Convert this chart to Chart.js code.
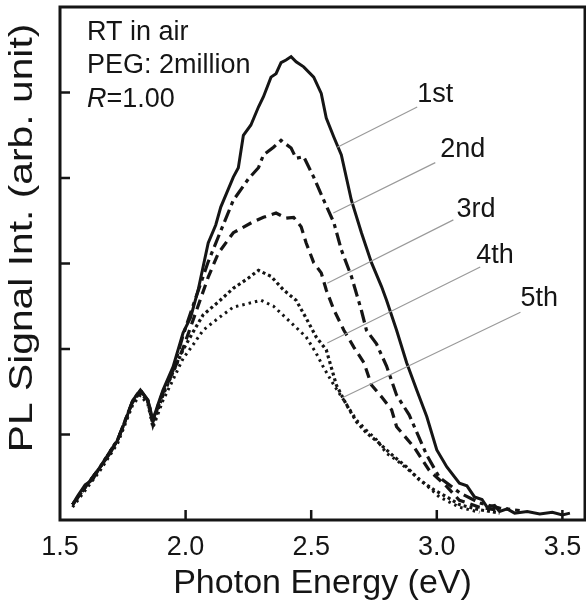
<!DOCTYPE html>
<html>
<head>
<meta charset="utf-8">
<script src="https://cdn.jsdelivr.net/npm/chart.js@4.4.1/dist/chart.umd.min.js"></script>
<style>
  body { margin: 0; background: #fff; }
  canvas { display: block; }
</style>
</head>
<body>
<canvas id="plChart" width="586" height="607"></canvas>
<script>
// values (photon energy in eV, PL intensity in arb. units)
const energy1st = [1.55, 1.57, 1.60, 1.63, 1.66, 1.70, 1.73, 1.76, 1.79, 1.82, 1.85, 1.87, 1.89, 1.91, 1.95, 1.99, 2.02, 2.05, 2.09, 2.12, 2.14, 2.19, 2.21, 2.23, 2.26, 2.29, 2.31, 2.34, 2.36, 2.38, 2.40, 2.42, 2.44, 2.47, 2.51, 2.54, 2.56, 2.59, 2.62, 2.66, 2.70, 2.74, 2.78, 2.80, 2.84, 2.88, 2.92, 2.96, 3.00, 3.04, 3.09, 3.12, 3.15, 3.18, 3.20, 3.23, 3.25, 3.28, 3.31, 3.36, 3.41, 3.46, 3.50, 3.53];
const signal1st = [0.18, 0.28, 0.41, 0.47, 0.62, 0.78, 0.94, 1.16, 1.40, 1.52, 1.40, 1.17, 1.35, 1.52, 1.79, 2.19, 2.37, 2.69, 3.24, 3.45, 3.66, 4.01, 4.12, 4.50, 4.62, 4.83, 4.95, 5.18, 5.22, 5.35, 5.38, 5.42, 5.36, 5.30, 5.18, 4.99, 4.70, 4.48, 4.27, 3.74, 3.36, 3.01, 2.73, 2.57, 2.22, 1.84, 1.52, 1.21, 0.82, 0.62, 0.43, 0.40, 0.27, 0.24, 0.15, 0.17, 0.10, 0.13, 0.08, 0.10, 0.07, 0.09, 0.06, 0.08];

const energy2nd = [1.55, 1.66, 1.73, 1.79, 1.82, 1.85, 1.87, 1.91, 1.95, 1.99, 2.03, 2.09, 2.13, 2.19, 2.25, 2.29, 2.31, 2.35, 2.38, 2.42, 2.44, 2.47, 2.51, 2.55, 2.59, 2.62, 2.66, 2.70, 2.72, 2.76, 2.80, 2.84, 2.89, 2.96, 3.01, 3.09, 3.17, 3.25, 3.33];
const signal2nd = [0.18, 0.62, 0.94, 1.40, 1.52, 1.40, 1.17, 1.50, 1.75, 2.16, 2.51, 3.02, 3.31, 3.74, 3.99, 4.12, 4.27, 4.36, 4.44, 4.35, 4.23, 4.25, 4.01, 3.74, 3.48, 3.16, 2.85, 2.45, 2.22, 2.06, 1.80, 1.46, 1.23, 0.76, 0.50, 0.32, 0.20, 0.14, 0.11];

const energy3rd = [1.55, 1.66, 1.73, 1.79, 1.82, 1.85, 1.87, 1.91, 1.95, 1.99, 2.03, 2.09, 2.13, 2.19, 2.27, 2.31, 2.36, 2.40, 2.43, 2.46, 2.48, 2.51, 2.54, 2.56, 2.59, 2.63, 2.67, 2.71, 2.74, 2.78, 2.82, 2.84, 2.91, 2.97, 3.04, 3.09, 3.17, 3.25];
const signal3rd = [0.18, 0.62, 0.94, 1.39, 1.51, 1.39, 1.15, 1.49, 1.73, 2.01, 2.34, 2.84, 3.12, 3.36, 3.49, 3.54, 3.59, 3.53, 3.54, 3.43, 3.24, 3.01, 2.89, 2.69, 2.46, 2.22, 2.02, 1.84, 1.58, 1.44, 1.29, 1.09, 0.85, 0.58, 0.39, 0.23, 0.15, 0.11];

const energy4th = [1.55, 1.66, 1.73, 1.79, 1.82, 1.85, 1.87, 1.91, 1.95, 1.99, 2.03, 2.07, 2.13, 2.19, 2.25, 2.29, 2.34, 2.39, 2.44, 2.48, 2.52, 2.56, 2.60, 2.64, 2.68, 2.72, 2.77, 2.83, 2.88, 2.93, 2.99, 3.04, 3.09, 3.17, 3.25];
const signal4th = [0.18, 0.62, 0.94, 1.38, 1.50, 1.38, 1.11, 1.46, 1.73, 1.99, 2.20, 2.40, 2.55, 2.71, 2.83, 2.92, 2.85, 2.69, 2.57, 2.36, 2.14, 1.99, 1.58, 1.35, 1.15, 1.02, 0.90, 0.74, 0.62, 0.47, 0.35, 0.27, 0.18, 0.12, 0.08];

const energy5th = [1.55, 1.66, 1.73, 1.79, 1.82, 1.85, 1.87, 1.91, 1.95, 1.99, 2.03, 2.07, 2.13, 2.19, 2.26, 2.30, 2.35, 2.39, 2.43, 2.48, 2.52, 2.55, 2.59, 2.63, 2.68, 2.72, 2.76, 2.80, 2.84, 2.89, 2.95, 3.01, 3.09, 3.17];
const signal5th = [0.15, 0.58, 0.90, 1.35, 1.46, 1.35, 1.08, 1.40, 1.64, 1.89, 2.05, 2.22, 2.36, 2.49, 2.54, 2.57, 2.50, 2.39, 2.28, 2.14, 1.95, 1.78, 1.58, 1.40, 1.17, 1.05, 0.94, 0.78, 0.70, 0.58, 0.43, 0.27, 0.15, 0.09];

const xTicks = [1.5, 2.0, 2.5, 3.0, 3.5];
const yTicks = [1, 2, 3, 4, 5];

// curve labels: text position and leader line end, in data units
const curveLabels = [
    { text: '1st', x: 2.922, y: 4.89, from: [2.922, 4.83], to: [2.604, 4.36] },
    { text: '2nd', x: 3.014, y: 4.25, from: [2.994, 4.18], to: [2.588, 3.59] },
    { text: '3rd', x: 3.078, y: 3.54, from: [3.066, 3.51], to: [2.564, 2.77] },
    { text: '4th', x: 3.157, y: 3.01, from: [3.173, 2.96], to: [2.564, 2.07] },
    { text: '5th', x: 3.333, y: 2.50, from: [3.333, 2.43], to: [2.624, 1.43] },
];

const FONT = '"Liberation Sans", Arial, sans-serif';
const INK = '#151515';

const toPoints = (xs, ys) => xs.map((x, i) => ({ x, y: ys[i] }));

const series = [
    { label: '1st', data: toPoints(energy1st, signal1st), dash: [], width: 3 },
    { label: '2nd', data: toPoints(energy2nd, signal2nd), dash: [13, 5, 4, 5], width: 3.2 },
    { label: '3rd', data: toPoints(energy3rd, signal3rd), dash: [10, 6], width: 3.2 },
    { label: '4th', data: toPoints(energy4th, signal4th), dash: [3, 3], width: 3.2 },
    { label: '5th', data: toPoints(energy5th, signal5th), dash: [2.5, 4], width: 3 },
];

const decorations = {
    id: 'decorations',
    afterDraw(chart) {
        const { ctx, chartArea: a, scales: { x, y } } = chart;
        ctx.save();

        // frame
        ctx.strokeStyle = INK;
        ctx.lineWidth = 3;
        ctx.strokeRect(a.left, a.top, a.right - a.left, a.bottom - a.top);

        // inward ticks
        ctx.lineWidth = 2.5;
        ctx.beginPath();
        xTicks.forEach((v) => {
            const px = x.getPixelForValue(v);
            if (px <= a.left + 2) return;
            ctx.moveTo(px, a.bottom);
            ctx.lineTo(px, a.bottom - 10);
        });
        yTicks.forEach((v) => {
            const py = y.getPixelForValue(v);
            ctx.moveTo(a.left, py);
            ctx.lineTo(a.left + 10, py);
        });
        ctx.stroke();

        // leader lines
        ctx.strokeStyle = '#9a9a9a';
        ctx.lineWidth = 1.2;
        ctx.beginPath();
        curveLabels.forEach((l) => {
            ctx.moveTo(x.getPixelForValue(l.from[0]), y.getPixelForValue(l.from[1]));
            ctx.lineTo(x.getPixelForValue(l.to[0]), y.getPixelForValue(l.to[1]));
        });
        ctx.stroke();

        ctx.fillStyle = INK;
        ctx.textBaseline = 'alphabetic';
        ctx.textAlign = 'left';
        ctx.font = `27px ${FONT}`;
        curveLabels.forEach((l) => {
            ctx.fillText(l.text, x.getPixelForValue(l.x), y.getPixelForValue(l.y));
        });

        // sample notes, top left
        ctx.fillText('RT in air', a.left + 27, a.top + 33);
        ctx.fillText('PEG: 2million', a.left + 27, a.top + 66);
        ctx.font = `italic 27px ${FONT}`;
        ctx.fillText('R', a.left + 27, a.top + 100);
        const rw = ctx.measureText('R').width;
        ctx.font = `27px ${FONT}`;
        ctx.fillText('=1.00', a.left + 27 + rw, a.top + 100);

        // y axis title, slightly stretched like the original
        ctx.translate(22, 238);
        ctx.rotate(-Math.PI / 2);
        ctx.scale(1.2, 1);
        ctx.font = `34px ${FONT}`;
        ctx.textAlign = 'center';
        ctx.textBaseline = 'middle';
        ctx.fillText('PL Signal Int. (arb. unit)', 0, 1);
        ctx.restore();
    },
};

new Chart(document.getElementById('plChart'), {
    type: 'line',
    data: {
        datasets: series.map((s) => ({
            label: s.label,
            data: s.data,
            borderColor: INK,
            borderWidth: s.width,
            borderDash: s.dash,
            pointRadius: 0,
            tension: 0,
            fill: false,
        })),
    },
    options: {
        responsive: false,
        animation: false,
        layout: { padding: { top: 7, right: 1 } },
        plugins: { legend: { display: false }, tooltip: { enabled: false } },
        scales: {
            x: {
                type: 'linear',
                min: 1.5,
                max: 3.59,
                grid: { display: false },
                border: { display: false },
                ticks: {
                    stepSize: 0.5,
                    includeBounds: false,
                    maxRotation: 0,
                    padding: 3,
                    color: INK,
                    font: { family: FONT, size: 27 },
                    callback: (v) => v.toFixed(1),
                },
                title: {
                    display: true,
                    text: 'Photon Energy (eV)',
                    color: INK,
                    font: { family: FONT, size: 34, lineHeight: 1 },
                    padding: { top: 0, bottom: 6 },
                },
                afterFit: (s) => { s.height = 87; },
            },
            y: {
                min: 0,
                max: 6,
                grid: { display: false },
                border: { display: false },
                ticks: { display: false, stepSize: 1 },
                afterFit: (s) => { s.width = 60; },
            },
        },
    },
    plugins: [decorations],
});
</script>
</body>
</html>
